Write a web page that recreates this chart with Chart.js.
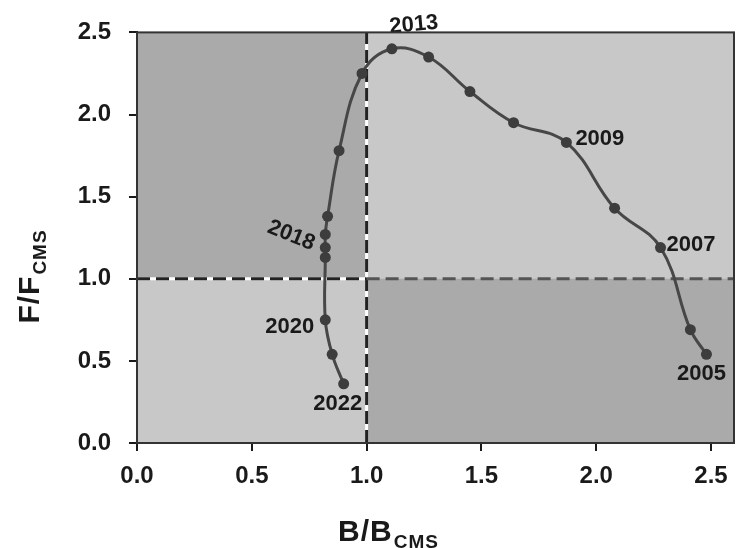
<!DOCTYPE html>
<html>
<head>
<meta charset="utf-8">
<script src="https://cdn.jsdelivr.net/npm/chart.js@4"></script>
<style>
  html, body { margin: 0; padding: 0; background: #ffffff; }
  #wrap { width: 740px; height: 548px; position: relative; }
</style>
</head>
<body>
<div id="wrap"><canvas id="kobeChart"></canvas></div>
<script>
// Trajectoire B/BCMS vs F/FCMS, 2005 -> 2022
const years  = [2005, 2006, 2007, 2008, 2009, 2010, 2011, 2012, 2013, 2014, 2015, 2016, 2017, 2018, 2019, 2020, 2021, 2022];
const bRatio = [2.48, 2.41, 2.28, 2.08, 1.87, 1.64, 1.45, 1.27, 1.11, 0.98, 0.88, 0.83, 0.82, 0.82, 0.82, 0.82, 0.85, 0.90];
const fRatio = [0.54, 0.69, 1.19, 1.43, 1.83, 1.95, 2.14, 2.35, 2.40, 2.25, 1.78, 1.38, 1.27, 1.19, 1.13, 0.75, 0.54, 0.36];

const labelledYears = [2005, 2007, 2009, 2013, 2018, 2020, 2022];
const xTicks = [0, 0.5, 1, 1.5, 2, 2.5];
const yTicks = [0, 0.5, 1, 1.5, 2, 2.5];
const refPoint = 1; // B = BCMS, F = FCMS

const darkZone  = '#aaaaaa';
const lightZone = '#c8c8c8';
const ink       = '#1a1a1a';
const curve     = '#474747';
const font      = '"Liberation Sans", Arial, sans-serif';

// placement des étiquettes d'années (décalage par rapport au point, alignement, rotation)
const labelStyle = {
  2005: { dx: -5,  dy: 20,  align: 'center', rot: 0 },
  2007: { dx: 6,   dy: -3,  align: 'left',   rot: 0 },
  2009: { dx: 9,   dy: -4,  align: 'left',   rot: 0 },
  2013: { dx: 22,  dy: -24, align: 'center', rot: -5 },
  2018: { dx: -34, dy: -12, align: 'center', rot: 22 },
  2020: { dx: -11, dy: 7,   align: 'right',  rot: 0 },
  2022: { dx: -6,  dy: 20,  align: 'center', rot: 0 },
};

// --- fond en quadrants + lignes de référence en tirets ---
const quadrants = {
  id: 'quadrants',
  beforeDatasetsDraw(chart) {
    const { ctx, chartArea: a, scales: { x, y } } = chart;
    const xr = x.getPixelForValue(refPoint);
    const yr = y.getPixelForValue(refPoint);
    ctx.save();
    ctx.fillStyle = lightZone;
    ctx.fillRect(a.left, a.top, a.width, a.height);
    ctx.fillStyle = darkZone;
    ctx.fillRect(a.left, a.top, xr - a.left, yr - a.top);
    ctx.fillRect(xr, yr, a.right - xr, a.bottom - yr);

    // sous-couche blanche visible entre les tirets
    ctx.strokeStyle = '#ffffff';
    ctx.lineWidth = 3;
    ctx.beginPath();
    ctx.moveTo(xr, a.top); ctx.lineTo(xr, a.bottom);
    ctx.moveTo(a.left, yr); ctx.lineTo(xr, yr);
    ctx.stroke();

    ctx.setLineDash([13, 6]);
    ctx.lineWidth = 3;
    ctx.strokeStyle = '#222222';
    ctx.beginPath();
    ctx.moveTo(a.left, yr); ctx.lineTo(xr, yr);
    ctx.moveTo(xr, a.bottom); ctx.lineTo(xr, a.top);
    ctx.stroke();
    ctx.strokeStyle = '#555555';
    ctx.beginPath();
    ctx.moveTo(xr, yr); ctx.lineTo(a.right, yr);
    ctx.stroke();
    ctx.restore();
  },
  afterDraw(chart) {
    const { ctx, chartArea: a } = chart;
    ctx.save();
    ctx.strokeStyle = '#333333';
    ctx.lineWidth = 2;
    ctx.strokeRect(a.left, a.top, a.width, a.height);
    ctx.restore();
  },
};

// --- étiquettes d'années ---
const yearLabels = {
  id: 'yearLabels',
  afterDatasetsDraw(chart) {
    const { ctx } = chart;
    const pts = chart.getDatasetMeta(0).data;
    ctx.save();
    ctx.font = `bold 22px ${font}`;
    ctx.fillStyle = ink;
    ctx.textBaseline = 'middle';
    labelledYears.forEach((yr) => {
      const p = pts[years.indexOf(yr)];
      const s = labelStyle[yr];
      ctx.save();
      ctx.translate(p.x + s.dx, p.y + s.dy);
      ctx.rotate(s.rot * Math.PI / 180);
      ctx.textAlign = s.align;
      ctx.fillText(String(yr), 0, 0);
      ctx.restore();
    });
    ctx.restore();
  },
};

// --- titres d'axes avec indice CMS ---
const axisTitles = {
  id: 'axisTitles',
  afterDraw(chart) {
    const { ctx } = chart;
    const drawTitle = (main, sub) => {
      ctx.letterSpacing = '1px';
      ctx.font = `bold 30px ${font}`;
      const w1 = ctx.measureText(main).width;
      ctx.font = `bold 19px ${font}`;
      const w2 = ctx.measureText(sub).width;
      const x0 = -(w1 + w2) / 2;
      ctx.textAlign = 'left';
      ctx.textBaseline = 'alphabetic';
      ctx.font = `bold 30px ${font}`;
      ctx.fillText(main, x0, 11);
      ctx.font = `bold 19px ${font}`;
      ctx.fillText(sub, x0 + w1 + 1, 18);
    };
    ctx.save();
    ctx.fillStyle = ink;
    ctx.save();
    ctx.translate(388, 530);
    drawTitle('B/B', 'CMS');
    ctx.restore();
    ctx.save();
    ctx.translate(28, 277);
    ctx.rotate(-Math.PI / 2);
    drawTitle('F/F', 'CMS');
    ctx.restore();
    ctx.restore();
  },
};

const points = years.map((yr, i) => ({ x: bRatio[i], y: fRatio[i] }));

new Chart(document.getElementById('kobeChart'), {
  type: 'scatter',
  data: {
    datasets: [{
      data: points,
      showLine: true,
      tension: 0.4,
      borderColor: curve,
      borderWidth: 3,
      pointRadius: 5.5,
      pointBackgroundColor: '#3d3d3d',
      pointBorderColor: '#3d3d3d',
      pointBorderWidth: 0,
    }],
  },
  options: {
    responsive: true,
    maintainAspectRatio: false,
    animation: false,
    layout: { padding: { top: 25, right: 6, left: 0, bottom: 0 } },
    plugins: {
      legend: { display: false },
      tooltip: { enabled: false },
    },
    scales: {
      x: {
        type: 'linear',
        min: 0,
        max: 2.6,
        afterFit: (s) => { s.height = 105; },
        afterBuildTicks: (s) => { s.ticks = xTicks.map((v) => ({ value: v })); },
        grid: { drawOnChartArea: false, drawTicks: true, tickLength: 8, color: ink, lineWidth: 2 },
        border: { display: true, color: ink, width: 2 },
        ticks: {
          padding: 11,
          color: ink,
          font: { family: font, size: 24, weight: 'bold' },
          callback: (v) => Number(v).toFixed(1),
        },
      },
      y: {
        type: 'linear',
        min: 0,
        max: 2.5,
        afterFit: (s) => { s.width = 137; },
        afterBuildTicks: (s) => { s.ticks = yTicks.map((v) => ({ value: v })); },
        grid: { drawOnChartArea: false, drawTicks: true, tickLength: 8, color: ink, lineWidth: 2 },
        border: { display: true, color: ink, width: 2 },
        ticks: {
          padding: 18,
          color: ink,
          font: { family: font, size: 24, weight: 'bold' },
          callback: (v) => Number(v).toFixed(1),
        },
      },
    },
  },
  plugins: [quadrants, yearLabels, axisTitles],
});
</script>
</body>
</html>
